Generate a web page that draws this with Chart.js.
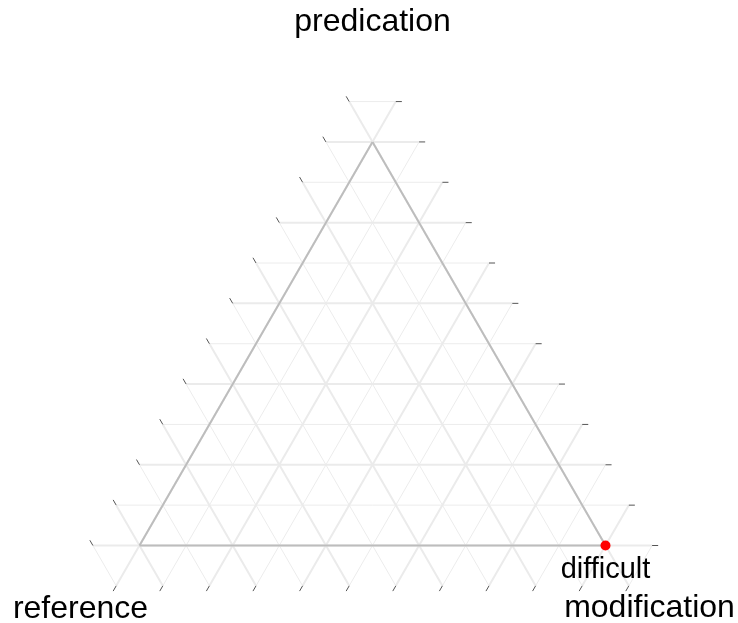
<!DOCTYPE html>
<html>
<head>
<meta charset="utf-8">
<script src="https://cdn.jsdelivr.net/npm/chart.js@4/dist/chart.umd.min.js"></script>
<style>
  html, body { margin: 0; padding: 0; background: #ffffff; }
  #wrap { width: 738px; height: 623px; position: relative; }
</style>
</head>
<body>
<div id="wrap"><canvas id="ternChart"></canvas></div>
<script>
// ternary axes: top = predication, left = reference, right = modification
const axisTitles = ['predication', 'reference', 'modification'];
const gridBreaks = [0, 0.1, 0.2, 0.3, 0.4, 0.5, 0.6, 0.7, 0.8, 0.9, 1, 1.1];
const majorBreaks = [0, 0.2, 0.4, 0.6, 0.8, 1];
const gridLow = -0.1; // grid runs one step past the triangle

// points
const pointNames = ['difficult'];
const pointPredication = [0];
const pointReference = [0];
const pointModification = [1];

const SQ = Math.sqrt(3) / 2;
// (pred, ref, mod) -> cartesian
function tern(a, b, c) {
    return { x: c + a / 2, y: a * SQ };
}

const gridMajor = [], gridMinor = [], tickMarks = [];
const tk = 0.013;
gridBreaks.forEach(v => {
    const major = majorBreaks.includes(v);
    const top = 1 - v - gridLow;
    // predication lines (horizontal), tick on right end
    const p1 = tern(v, top, gridLow), p2 = tern(v, gridLow, top);
    // modification lines, tick on bottom end
    const m1 = tern(top, gridLow, v), m2 = tern(gridLow, top, v);
    // reference lines, tick on upper-left end
    const r1 = tern(gridLow, v, top), r2 = tern(top, v, gridLow);
    [[p1, p2], [m1, m2], [r1, r2]].forEach(seg => (major ? gridMajor : gridMinor).push(seg));
    tickMarks.push([tern(v, gridLow, top), tern(v, gridLow - tk, top + tk)]);
    tickMarks.push([tern(gridLow, top, v), tern(gridLow - tk, top + tk, v)]);
    tickMarks.push([tern(top, v, gridLow), tern(top + tk, v, gridLow - tk)]);
});

const datasets = [];
function addSegs(segs, color, width) {
    segs.forEach(s => datasets.push({
        data: s, showLine: true, borderColor: color, backgroundColor: color, borderWidth: width,
        pointRadius: 0, fill: false, clip: false
    }));
}
addSegs(gridMinor, '#ececec', 1);
addSegs(gridMajor, '#ebebeb', 2);
addSegs([[tern(0, 1, 0), tern(0, 0, 1)], [tern(0, 0, 1), tern(1, 0, 0)], [tern(1, 0, 0), tern(0, 1, 0)]], '#bdbdbd', 2);
addSegs(tickMarks, '#555555', 1);
datasets.push({
    data: pointNames.map((n, i) => tern(pointPredication[i], pointReference[i], pointModification[i])),
    pointRadius: 5, backgroundColor: '#ff0000', borderColor: '#ff0000', pointBorderWidth: 0,
    showLine: false, clip: false
});
// chart.js paints the first dataset on top, so hand them over last-first
datasets.reverse();

const textPlugin = {
    id: 'ternText',
    afterDatasetsDraw(chart) {
        const c = chart.ctx, xs = chart.scales.x, ys = chart.scales.y;
        const px = p => [xs.getPixelForValue(p.x), ys.getPixelForValue(p.y)];
        c.save();
        c.fillStyle = '#000000';
        c.textAlign = 'center';
        c.textBaseline = 'alphabetic';
        c.font = '32px "Liberation Sans", Arial, sans-serif';
        const T = px(tern(1, 0, 0)), L = px(tern(0, 1, 0)), R = px(tern(0, 0, 1));
        c.fillText(axisTitles[0], T[0], T[1] - 111);
        c.fillText(axisTitles[1], L[0] - 59, L[1] + 72);
        c.fillText(axisTitles[2], R[0] + 44, R[1] + 71);
        c.font = '29px "Liberation Sans", Arial, sans-serif';
        pointNames.forEach((n, i) => {
            const p = px(tern(pointPredication[i], pointReference[i], pointModification[i]));
            c.fillText(n, p[0], p[1] + 32);
        });
        c.restore();
    }
};

const ctx = document.getElementById('ternChart').getContext('2d');
const unit = 466, ox = 139.5, oy = 545.5;
const ternChart = new Chart(ctx, {
    type: 'scatter',
    data: { datasets: datasets },
    options: {
        responsive: true,
        maintainAspectRatio: false,
        animation: false,
        events: [],
        layout: { padding: 0, autoPadding: false },
        plugins: { legend: { display: false }, tooltip: { enabled: false } },
        scales: {
            x: { type: 'linear', display: false, bounds: 'data', min: -ox / unit, max: (738 - ox) / unit },
            y: { type: 'linear', display: false, bounds: 'data', min: -(623 - oy) / unit, max: oy / unit }
        }
    },
    plugins: [textPlugin]
});
</script>
</body>
</html>
